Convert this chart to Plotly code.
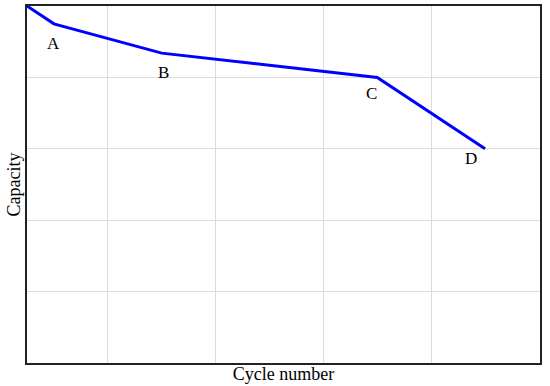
import plotly.graph_objects as go

# Data (axis units: x grid ticks at 1..4, y grid ticks at 1..4)
cycle = [0.25, 0.5, 1.5, 3.5, 4.5]
capacity = [5.0, 4.75, 4.34, 4.0, 3.0]
point_labels = ["A", "B", "C", "D"]
label_x = [0.5, 1.5, 3.5, 4.5]
label_y = [4.75, 4.34, 4.0, 3.0]
label_dx = [0, 2, -6, -14]
label_dy = [-20, -19, -16, -10]

fig = go.Figure()
fig.add_trace(go.Scatter(x=cycle, y=capacity, mode="lines",
                         line=dict(color="#0000ff", width=3), showlegend=False))

for t, xv, yv, dx, dy in zip(point_labels, label_x, label_y, label_dx, label_dy):
    fig.add_annotation(x=xv, y=yv, text=t, showarrow=False, xshift=dx, yshift=dy,
                       font=dict(family="Liberation Serif", size=17, color="black"))

axis_common = dict(showgrid=True, gridcolor="#dcdcdc", gridwidth=1, zeroline=False,
                   showticklabels=False, ticks="", showline=True, linecolor="#222",
                   linewidth=1.5, mirror=True, automargin=False)

fig.update_layout(
    width=550, height=386,
    margin=dict(l=27, r=10, t=6, b=23),
    paper_bgcolor="white", plot_bgcolor="white",
    xaxis=dict(range=[0.25, 5.01], tickvals=[1, 2, 3, 4],
               title=dict(text="Cycle number", standoff=4,
                          font=dict(family="Liberation Serif", size=18, color="black")),
               **axis_common),
    yaxis=dict(range=[0, 5], tickvals=[1, 2, 3, 4],
               title=dict(text="Capacity", standoff=0,
                          font=dict(family="Liberation Serif", size=18, color="black")),
               **axis_common),
)

fig.write_html("out.html", config={"displayModeBar": False},
               post_script="document.body.style.margin='0';document.body.style.overflow='hidden';")
